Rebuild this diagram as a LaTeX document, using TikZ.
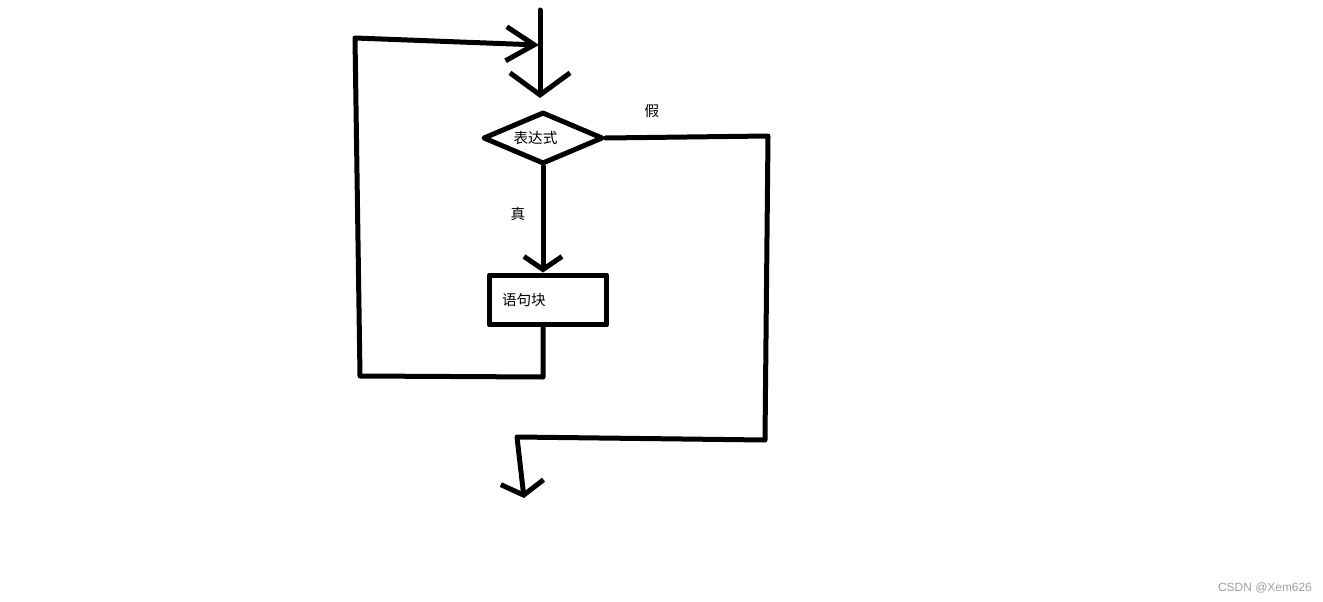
\documentclass[tikz,border=0pt]{standalone}
\usepackage{fontspec}
\setsansfont{Liberation Sans}
\newfontfamily\cjk{Noto Sans CJK SC}
\usetikzlibrary{shapes.geometric,arrows.meta}
\colorlet{colorLine}{black}
\colorlet{colorMark}{gray!75}
\tikzset{
   flow/.style={draw=colorLine,line width=1mm,line join=round,line cap=round},
   head/.style 2 args={-{Straight Barb[length=#1,width=#2,line width=1mm]}},
   cond/.style={diamond,flow,inner sep=0pt,aspect=2.3,minimum width=2.4cm,minimum height=1.04cm},
   stmt/.style={rectangle,flow,line cap=butt,minimum width=2.34cm,minimum height=1cm,
     text width=1.84cm,align=left,inner sep=0.2cm},
   cjklab/.style={font=\cjk\fontsize{8.3}{10}\selectfont,inner sep=0pt},
 }

\begin{document}
\begin{tikzpicture}[x=0.02cm,y=-0.02cm]
      \useasboundingbox (0,0) rectangle (1323,602);

      \coordinate (top) at (540,10);
      \coordinate (join) at (539,45);
      \coordinate (entry) at (540,98);
      \draw[flow,head={4.4mm}{12mm}] (top) -- (entry);

      \node[cond,cjklab] (expr) at (543,138) {\raisebox{-0.1cm}{\hspace*{-0.3cm}表达式}};
      \node[stmt,cjklab] (body) at (548,300) {\raisebox{-0.08cm}{语句块}};
      \draw[flow,head={2.6mm}{7.6mm}] (expr.south) -- (expr.south |- body.north);
      \node[cjklab] (true) at (518,214) {真};

      % loop back
      \coordinate (loopBR) at (543,377);
      \coordinate (loopBL) at (360,376);
      \coordinate (loopTL) at (355,38);
      \draw[flow,head={5.6mm}{6.8mm}] (loopBR |- body.south) -- (loopBR) -- (loopBL) -- (loopTL) -- (join);

      % false exit
      \node[cjklab] (false) at (652,111) {假};
      \coordinate (falseTR) at (768,136);
      \coordinate (falseBR) at (765,440);
      \coordinate (falseBL) at (517,437);
      \coordinate (exit) at (524,498);
      \draw[flow,head={2.6mm}{8.6mm}] (expr.east) -- (falseTR) -- (falseBR) -- (falseBL) -- (exit);

      \node[font=\sffamily\fontsize{6.8}{8}\selectfont,text=colorMark,inner sep=0pt] (mark) at (1265,588) {CSDN @Xem626};
    \end{tikzpicture}
\end{document}
